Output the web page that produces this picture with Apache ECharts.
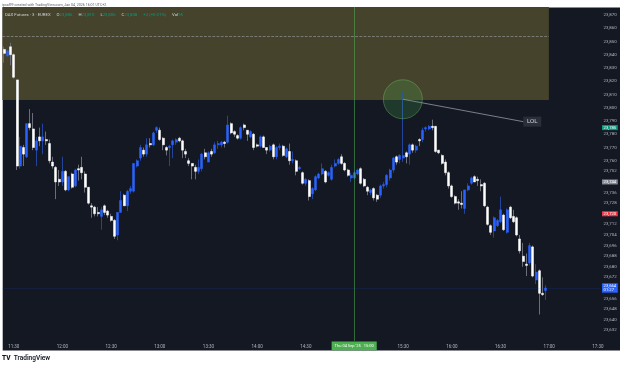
<!DOCTYPE html>
<html>
<head>
<meta charset="UTF-8">
<title>DAX Futures</title>
<script src="https://cdn.jsdelivr.net/npm/echarts@6.0.0/dist/echarts.min.js"></script>
<style>
  html, body { margin: 0; padding: 0; background: #fff; }
  #main { width: 625px; height: 370px; }
</style>
</head>
<body>
<div id="main"></div>
<script>
// 2 minute candles, first one at 11:24
var opens = [
  23844, 23839, 23846, 23840, 23821, 23756, 23770, 23763, 23788, 23784,
  23768, 23778, 23775, 23776, 23773, 23759, 23755, 23746, 23744, 23752,
  23738, 23750, 23741, 23754, 23755, 23750, 23740, 23726, 23725, 23721,
  23718, 23726, 23722, 23718, 23715, 23704, 23721, 23734, 23726, 23737,
  23737, 23756, 23762, 23768, 23765, 23773, 23772, 23783, 23783, 23777,
  23770, 23770, 23772, 23774, 23777, 23775, 23767, 23760, 23758, 23755,
  23752, 23754, 23766, 23759, 23767, 23766, 23772, 23772, 23774, 23774,
  23788, 23782, 23779, 23777, 23787, 23783, 23778, 23780, 23772, 23771,
  23778, 23770, 23768, 23772, 23763, 23770, 23771, 23763, 23767, 23760,
  23760, 23754, 23751, 23743, 23745, 23735, 23738, 23747, 23750, 23752,
  23749, 23746, 23756, 23758, 23763, 23758, 23753, 23747, 23747, 23750,
  23754, 23746, 23740, 23736, 23739, 23734, 23734, 23741, 23742, 23747,
  23753, 23763, 23761, 23762, 23766, 23765, 23772, 23768, 23776, 23776,
  23784, 23784, 23786, 23786, 23768, 23764, 23759, 23751, 23741, 23733,
  23729, 23728, 23724, 23738, 23743, 23748, 23746, 23742, 23743, 23725,
  23711, 23707, 23711, 23714, 23719, 23706, 23725, 23718, 23717, 23701,
  23688, 23682, 23683, 23695, 23670, 23677, 23660, 23662
];
var highs = [
  23846, 23847, 23849, 23841, 23821, 23778, 23772, 23788, 23799, 23796,
  23778, 23785, 23788, 23782, 23776, 23763, 23756, 23753, 23763, 23753,
  23748, 23751, 23754, 23757, 23763, 23752, 23740, 23728, 23726, 23725,
  23725, 23727, 23723, 23720, 23716, 23721, 23737, 23735, 23738, 23741,
  23758, 23761, 23772, 23770, 23777, 23777, 23782, 23786, 23785, 23778,
  23771, 23772, 23776, 23777, 23778, 23776, 23769, 23762, 23758, 23757,
  23761, 23766, 23769, 23767, 23769, 23774, 23775, 23775, 23775, 23794,
  23789, 23783, 23780, 23786, 23788, 23783, 23783, 23781, 23773, 23779,
  23779, 23770, 23772, 23773, 23771, 23773, 23772, 23770, 23773, 23767,
  23761, 23756, 23752, 23747, 23746, 23740, 23749, 23751, 23758, 23753,
  23752, 23757, 23761, 23762, 23765, 23759, 23754, 23751, 23752, 23754,
  23755, 23747, 23741, 23739, 23740, 23735, 23742, 23744, 23750, 23754,
  23763, 23764, 23765, 23812, 23767, 23773, 23773, 23772, 23777, 23785,
  23786, 23787, 23791, 23786, 23768, 23765, 23761, 23752, 23742, 23734,
  23731, 23737, 23738, 23743, 23748, 23749, 23748, 23746, 23744, 23726,
  23712, 23718, 23716, 23733, 23720, 23724, 23726, 23723, 23718, 23704,
  23698, 23690, 23698, 23696, 23682, 23678, 23672, 23666
];
var lows = [
  23834, 23834, 23832, 23822, 23753, 23754, 23756, 23762, 23783, 23768,
  23756, 23771, 23765, 23772, 23758, 23754, 23731, 23741, 23741, 23737,
  23737, 23739, 23740, 23745, 23746, 23736, 23727, 23717, 23718, 23718,
  23708, 23719, 23717, 23714, 23701, 23700, 23721, 23726, 23722, 23735,
  23736, 23755, 23760, 23763, 23763, 23770, 23771, 23781, 23775, 23768,
  23764, 23756, 23762, 23772, 23774, 23762, 23762, 23756, 23746, 23746,
  23750, 23752, 23761, 23759, 23763, 23765, 23769, 23770, 23770, 23773,
  23780, 23778, 23776, 23776, 23783, 23775, 23777, 23768, 23770, 23770,
  23770, 23765, 23767, 23761, 23761, 23768, 23763, 23762, 23757, 23758,
  23749, 23753, 23742, 23741, 23730, 23731, 23737, 23746, 23749, 23743,
  23748, 23745, 23755, 23757, 23757, 23752, 23748, 23744, 23746, 23749,
  23742, 23740, 23734, 23734, 23730, 23729, 23732, 23739, 23740, 23745,
  23751, 23757, 23758, 23759, 23758, 23757, 23766, 23766, 23771, 23774,
  23782, 23783, 23783, 23766, 23765, 23757, 23749, 23739, 23732, 23727,
  23723, 23724, 23720, 23737, 23742, 23744, 23741, 23737, 23725, 23711,
  23704, 23702, 23710, 23713, 23707, 23705, 23716, 23713, 23703, 23690,
  23680, 23673, 23681, 23672, 23667, 23644, 23658, 23655
];
var closes = [
  23841, 23843, 23840, 23823, 23756, 23771, 23765, 23788, 23785, 23770,
  23775, 23775, 23778, 23775, 23760, 23756, 23744, 23744, 23752, 23738,
  23748, 23740, 23753, 23753, 23751, 23740, 23728, 23725, 23720, 23720,
  23723, 23721, 23719, 23715, 23703, 23721, 23730, 23726, 23737, 23739,
  23758, 23760, 23770, 23765, 23772, 23772, 23781, 23785, 23776, 23772,
  23768, 23771, 23775, 23776, 23775, 23768, 23765, 23758, 23756, 23752,
  23755, 23765, 23763, 23766, 23765, 23772, 23773, 23774, 23773, 23787,
  23781, 23780, 23777, 23785, 23785, 23780, 23782, 23770, 23771, 23778,
  23770, 23768, 23771, 23763, 23770, 23771, 23764, 23769, 23760, 23761,
  23752, 23755, 23743, 23746, 23733, 23739, 23748, 23750, 23754, 23744,
  23751, 23755, 23758, 23761, 23758, 23753, 23749, 23749, 23751, 23753,
  23743, 23741, 23737, 23738, 23732, 23731, 23741, 23742, 23749, 23753,
  23762, 23759, 23764, 23764, 23763, 23772, 23768, 23771, 23775, 23783,
  23785, 23786, 23785, 23767, 23766, 23758, 23751, 23741, 23733, 23728,
  23728, 23727, 23738, 23741, 23747, 23744, 23745, 23741, 23726, 23712,
  23706, 23717, 23715, 23723, 23708, 23723, 23717, 23714, 23704, 23692,
  23684, 23681, 23696, 23673, 23676, 23660, 23659, 23664
];
var timeLabels = ['11:30', '12:00', '12:30', '13:00', '13:30', '14:00', '14:30',
                  '15:30', '16:00', '16:30', '17:00', '17:30'];
var priceLabels = [23870, 23860, 23850, 23840, 23830, 23820, 23810, 23800, 23790,
                   23780, 23770, 23760, 23752, 23736, 23728, 23712, 23704, 23696,
                   23688, 23680, 23672, 23656, 23648, 23640, 23632];

var font = 'Roboto, sans-serif';
var slots = 184;
var cats = [];
for (var k = 0; k < slots; k++) {
  var m = 11 * 60 + 24 + k * 2;
  var hh = Math.floor(m / 60), mm = m % 60;
  cats.push(hh + ':' + (mm < 10 ? '0' : '') + mm);
}
var wickData = [], bodyData = [];
for (var i = 0; i < opens.length; i++) {
  wickData.push([opens[i], closes[i], lows[i], highs[i]]);
  bodyData.push([opens[i], closes[i], Math.min(opens[i], closes[i]), Math.max(opens[i], closes[i])]);
}
function fmtPrice(v) {
  return String(v).replace(/(\d{2})(\d{3})$/, '$1,$2');
}

var myChart = echarts.init(document.getElementById('main'));
var option = {
  backgroundColor: '#ffffff',
  animation: false,
  textStyle: { fontFamily: font },
  grid: { left: 2.4, right: 25.5, top: 7, height: 334, containLabel: false, outerBoundsMode: 'none' },
  xAxis: [{
    type: 'category',
    data: cats,
    boundaryGap: true,
    axisLine: { show: false },
    axisTick: { show: false },
    splitLine: { show: false },
    axisLabel: {
      interval: function (idx, val) { return timeLabels.indexOf(val) >= 0; },
      color: '#b2b5be', fontSize: 4.5, margin: 3.5, fontFamily: font
    }
  }, {
    type: 'value', min: 0, max: slots, show: false
  }],
  yAxis: {
    type: 'value',
    position: 'right',
    min: 23624, max: 23876, interval: 2,
    axisLine: { show: false },
    axisTick: { show: false },
    splitLine: { show: false },
    axisLabel: {
      color: '#b2b5be', fontSize: 4.4, margin: 4, fontFamily: font,
      formatter: function (v) { return priceLabels.indexOf(v) >= 0 ? fmtPrice(v) : ''; }
    }
  },
  graphic: [
    { type: 'rect', z: -1, silent: true,
      shape: { x: 2.7, y: 7.5, width: 617.3, height: 343 },
      style: { fill: '#141823' } },
    { type: 'text', x: 2, y: 5.3, z: 100, silent: true,
      style: { text: 'ipcal99 created with TradingView.com, Jan 04, 2026 16:01 UTC+2',
               fill: '#5d606b', fontSize: 3.6, fontFamily: font, verticalAlign: 'middle' } },
    { type: 'text', x: 5, y: 14.6, z: 100, silent: true,
      style: {
        text: '{t|DAX Futures · 3 · EUREX}  {k|O}{v|23,806}  {k|H}{v|23,810}  {k|L}{v|23,806}  {k|C}{v|23,808}  {v|+2 (+0.01%)}  {k|Vol}{v|95}',
        fontFamily: font, verticalAlign: 'middle',
        rich: {
          t: { fill: '#d1d4dc', fontSize: 4.3, fontFamily: font },
          k: { fill: '#d1d4dc', fontSize: 4.3, fontFamily: font },
          v: { fill: '#089981', fontSize: 4.3, fontFamily: font }
        }
      } },
    { type: 'text', x: 2, y: 358.8, z: 100, silent: true,
      style: {
        text: '{l|TV} {n|TradingView}', verticalAlign: 'middle',
        rich: {
          l: { fill: '#131722', fontSize: 6.5, fontWeight: 900, fontFamily: font },
          n: { fill: '#131722', fontSize: 6.5, fontWeight: 600, fontFamily: font }
        }
      } }
  ],
  series: [
    {
      name: 'zone', type: 'line', xAxisIndex: 1, data: [], z: 1, silent: true,
      markArea: {
        silent: true,
        itemStyle: { color: '#45432c', opacity: 1 },
        data: [[{ coord: [0, 23876] }, { coord: [168.4, 23805.8] }]]
      },
      markLine: {
        silent: true, symbol: 'none',
        lineStyle: { color: '#8f9197', type: 'dashed', width: 0.7 },
        label: { show: false },
        data: [[{ coord: [0, 23854] }, { coord: [168.4, 23854] }]]
      }
    },
    {
      name: 'wicks', type: 'candlestick', data: wickData, barWidth: 1, z: 3, silent: true,
      itemStyle: { color: '#22449c', color0: '#6b6e78', borderColor: '#22449c', borderColor0: '#6b6e78', borderWidth: 1 }
    },
    {
      name: 'bodies', type: 'candlestick', data: bodyData, barWidth: 2.5, z: 4, silent: true,
      itemStyle: { color: '#2962ff', color0: '#ffffff', borderColor: '#2962ff', borderColor0: '#ffffff', borderWidth: 0.5 },
      markLine: {
        silent: true, symbol: 'none',
        label: { show: true, position: 'end', distance: 2.5, color: '#ffffff', fontSize: 4.2,
                 lineHeight: 4.4, padding: [0.3, 1.6], fontFamily: font },
        data: [
          { yAxis: 23785, lineStyle: { color: 'rgba(0,0,0,0)' }, label: { formatter: '23,785', backgroundColor: '#089981' } },
          { yAxis: 23744, lineStyle: { color: 'rgba(0,0,0,0)' }, label: { formatter: '23,744', backgroundColor: '#868993' } },
          { yAxis: 23720, lineStyle: { color: 'rgba(0,0,0,0)' }, label: { formatter: '23,720', backgroundColor: '#f23645' } },
          { yAxis: 23664, lineStyle: { color: 'rgba(41,98,255,0.22)', type: 'dotted', width: 1 },
            label: { formatter: '23,664\n01:27', backgroundColor: '#2962ff' } }
        ]
      }
    },
    {
      name: 'note', type: 'line', xAxisIndex: 1, z: 5, silent: true,
      symbol: 'none',
      lineStyle: { color: '#9598a1', width: 0.8 },
      data: [[123.4, 23806.4], [160.5, 23789.5]],
      markPoint: {
        silent: true,
        data: [{
          coord: [160.5, 23789.5], symbol: 'rect', symbolSize: [18, 10], symbolOffset: [9, 0],
          itemStyle: { color: '#2a2e39' },
          label: { show: true, position: 'inside', formatter: 'LOL', color: '#d1d4dc', fontSize: 6.2, fontFamily: font }
        }]
      },
      markLine: {
        silent: true, symbol: 'none',
        lineStyle: { color: 'rgba(76,175,80,0.55)', width: 1, type: 'solid' },
        label: { show: true, position: 'start', distance: 0.5, formatter: "Thu 04 Sep '25   15:00",
                 backgroundColor: '#4caf50', color: '#ffffff', fontSize: 4, padding: [2.4, 3], fontFamily: font },
        data: [{ xAxis: 108.4 }]
      }
    },
    {
      name: 'circle', type: 'scatter', xAxisIndex: 1, z: 6, silent: true,
      data: [[123.4, 23806.4]], symbolSize: 39,
      itemStyle: { color: 'rgba(76,175,80,0.28)', borderColor: 'rgba(120,200,110,0.6)', borderWidth: 0.8 }
    }
  ]
};
myChart.setOption(option);
</script>
</body>
</html>
